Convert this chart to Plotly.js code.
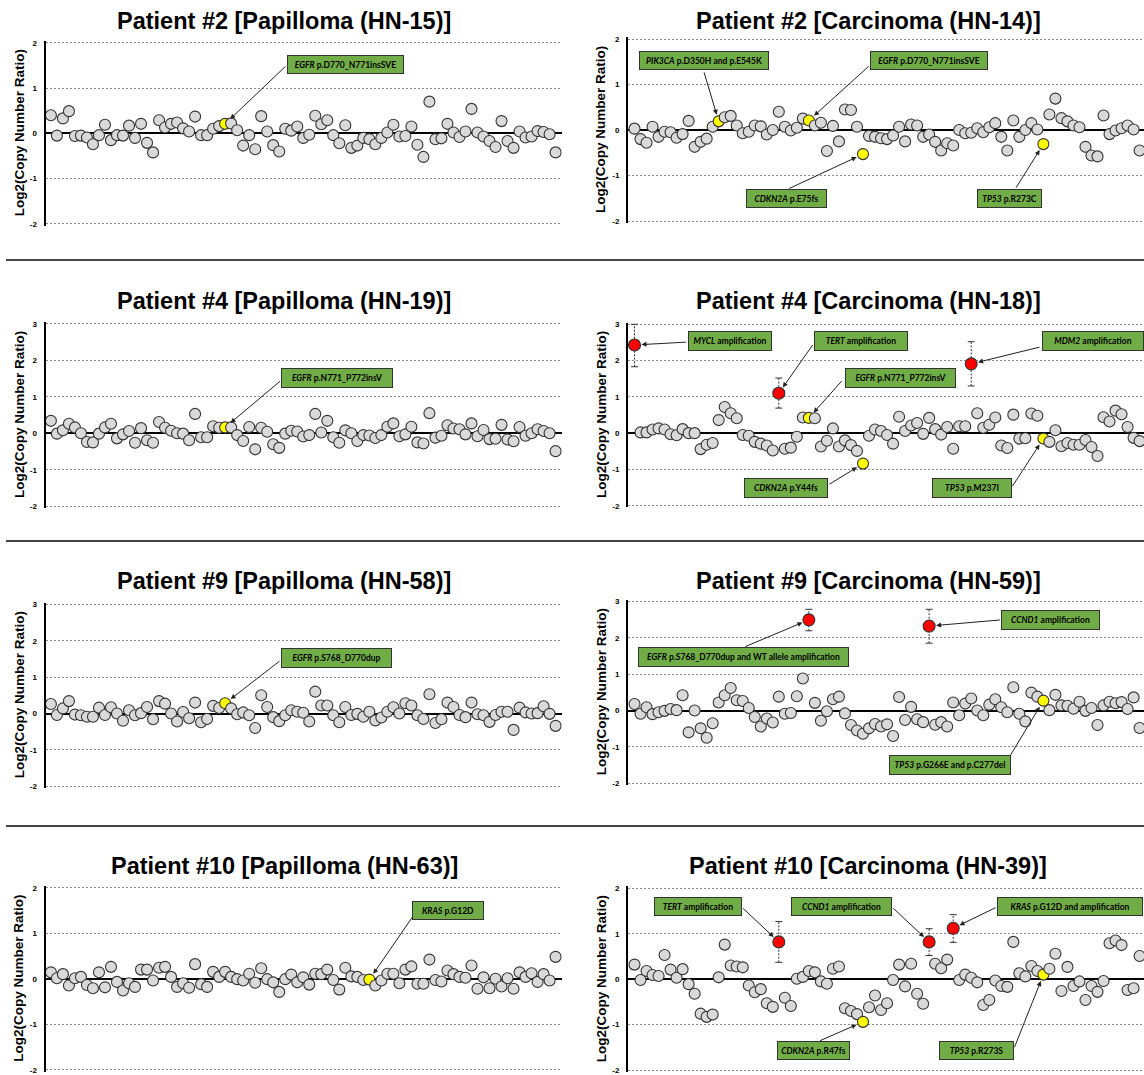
<!DOCTYPE html>
<html><head><meta charset="utf-8">
<script src="https://cdn.plot.ly/plotly-3.0.1.min.js"></script>
<style>html,body{margin:0;padding:0;background:#fff;} #chart{width:1144px;height:1075px;}</style>
</head><body><div id="chart"></div>
<script>
// ---------------- DATA ----------------
const hn15 = [0.40,-0.05,0.33,0.49,-0.06,-0.05,-0.09,-0.24,-0.04,0.19,
 -0.15,-0.04,-0.05,0.17,-0.10,0.21,-0.21,-0.42,0.29,0.13,
 0.21,0.24,0.11,0.04,0.37,-0.04,-0.04,0.10,0.16,0.21,
 0.22,0.07,-0.27,-0.04,-0.35,0.38,0.04,-0.26,-0.40,0.10,
 0.06,0.15,-0.10,-0.03,0.39,0.20,0.29,-0.04,-0.22,0.18,
 -0.32,-0.27,-0.10,-0.13,-0.24,-0.10,0.02,0.19,-0.07,-0.06,
 0.15,-0.25,-0.52,0.70,-0.13,-0.11,0.21,0.02,-0.08,0.04,
 0.54,0.02,-0.07,-0.17,-0.30,0.27,-0.17,-0.32,0.04,-0.09,
 -0.07,0.05,0.03,-0.02,-0.42];
const hn14 = [0.03,-0.20,-0.28,0.07,-0.15,-0.04,-0.05,-0.17,-0.09,0.20,
 -0.37,-0.26,-0.19,0.07,0.19,0.28,0.31,0.10,-0.07,-0.04,
 0.10,0.08,-0.10,0.00,0.40,0.07,-0.01,0.05,0.25,0.21,
 0.10,0.16,-0.46,0.09,-0.25,0.45,0.44,0.07,-0.53,-0.13,
 -0.15,-0.18,-0.20,-0.12,0.07,-0.25,0.12,0.10,-0.15,-0.10,
 -0.26,-0.45,-0.29,-0.34,0.00,-0.07,-0.06,0.04,-0.05,0.06,
 0.15,-0.15,-0.45,0.21,-0.15,0.00,0.15,0.01,-0.31,0.34,
 0.69,0.26,0.19,0.10,0.06,-0.37,-0.56,-0.58,0.32,-0.09,
 -0.01,0.04,0.10,0.01,-0.45];
const hn19 = [0.34,-0.01,0.08,0.26,0.16,0.00,-0.24,-0.25,-0.01,0.16,
 0.26,-0.14,-0.03,0.06,-0.26,0.14,-0.19,-0.26,0.31,0.15,
 0.07,0.00,-0.01,-0.19,0.53,-0.11,-0.11,0.19,0.15,0.16,
 0.16,-0.05,-0.21,0.17,-0.44,0.15,0.04,-0.30,-0.40,-0.01,
 0.07,0.05,-0.09,-0.05,0.53,0.02,0.34,-0.11,-0.26,0.08,
 0.00,-0.21,-0.05,-0.06,-0.13,-0.05,0.18,0.27,-0.08,-0.03,
 0.18,-0.25,-0.28,0.55,-0.12,-0.07,0.22,0.13,0.11,-0.03,
 0.27,-0.08,0.09,-0.16,-0.15,0.23,-0.17,-0.22,0.17,-0.07,
 0.00,0.11,0.06,0.00,-0.49];
const hn18 = [2.43,0.02,0.02,0.10,0.13,0.10,-0.03,-0.06,0.11,0.00,
 0.00,-0.44,-0.32,-0.27,0.36,0.72,0.55,0.41,-0.05,-0.07,
 -0.24,-0.29,-0.34,-0.48,1.10,-0.43,-0.40,-0.10,0.43,0.42,
 0.41,-0.37,-0.21,0.13,-0.37,-0.20,-0.33,-0.49,-0.84,-0.07,
 0.10,0.06,-0.05,-0.29,0.45,0.06,0.21,0.28,-0.02,0.42,
 0.11,-0.04,0.17,-0.43,0.19,0.19,1.91,0.55,0.15,0.23,
 0.43,-0.34,-0.41,0.51,-0.15,-0.14,0.54,0.48,-0.15,-0.24,
 0.08,-0.36,-0.27,-0.32,-0.32,-0.19,-0.38,-0.63,0.44,0.32,
 0.62,0.52,0.17,-0.13,-0.22];
const hn58 = [0.26,-0.04,0.14,0.34,-0.03,-0.05,-0.09,-0.09,0.16,-0.04,
 0.17,0.00,-0.20,0.09,-0.05,0.01,0.18,-0.16,0.34,0.27,
 0.00,-0.22,0.04,-0.13,0.30,-0.24,-0.15,0.21,0.15,0.28,
 0.14,-0.02,0.03,-0.05,-0.40,0.50,0.18,-0.10,-0.21,-0.05,
 0.09,0.05,0.02,-0.22,0.60,0.22,0.22,-0.05,-0.24,0.18,
 -0.04,-0.01,-0.09,0.05,-0.19,-0.11,0.05,0.17,0.00,0.28,
 0.22,-0.05,-0.15,0.53,-0.26,-0.16,0.30,0.18,-0.04,-0.10,
 0.30,-0.02,-0.05,-0.23,-0.04,0.05,0.05,-0.45,0.16,0.03,
 0.00,0.01,0.20,-0.01,-0.34];
const hn59 = [0.18,-0.09,0.09,-0.10,-0.05,-0.01,0.04,0.01,0.42,-0.60,
 0.00,-0.49,-0.75,-0.35,0.22,0.42,0.62,0.28,0.26,0.07,
 -0.18,-0.44,-0.22,-0.33,0.38,-0.09,-0.07,0.39,0.88,2.49,
 0.21,-0.28,-0.02,0.31,0.38,-0.08,-0.40,-0.55,-0.64,-0.49,
 -0.37,-0.44,-0.38,-0.70,0.37,-0.26,0.10,-0.24,-0.32,2.32,
 -0.39,-0.32,-0.44,0.22,-0.13,0.19,0.33,0.00,-0.13,0.16,
 0.31,0.09,-0.05,0.64,-0.09,-0.30,0.49,0.38,0.27,0.01,
 0.43,0.14,0.13,0.05,0.24,-0.01,0.07,-0.40,0.14,0.24,
 0.20,0.23,0.04,0.36,-0.48];
const hn63 = [0.14,0.01,0.10,-0.15,0.01,0.04,-0.14,-0.21,0.14,-0.19,
 0.26,-0.07,-0.26,-0.10,-0.18,0.20,0.20,-0.04,0.24,0.26,
 0.04,-0.18,-0.10,-0.20,0.32,-0.12,-0.18,0.15,0.04,0.15,
 0.04,-0.01,-0.04,0.11,-0.09,0.23,-0.01,-0.08,-0.29,-0.01,
 0.09,-0.08,0.03,-0.13,0.11,0.10,0.20,-0.03,-0.24,0.24,
 0.05,0.04,-0.03,-0.02,-0.15,-0.04,0.11,0.11,-0.10,0.20,
 0.27,-0.11,-0.11,0.42,-0.03,-0.06,0.18,0.10,0.04,0.02,
 0.29,-0.22,0.03,-0.21,0.00,-0.17,0.01,-0.22,0.14,0.04,
 0.12,-0.07,0.10,-0.04,0.48];
const hn39 = [0.32,-0.02,0.18,0.09,0.07,0.53,0.21,0.03,0.22,-0.11,
 -0.32,-0.76,-0.83,-0.78,0.04,0.76,0.30,0.28,0.26,-0.14,
 -0.29,-0.22,-0.53,-0.61,0.82,-0.41,-0.59,0.01,0.05,0.18,
 0.15,-0.05,-0.10,0.23,0.28,-0.64,-0.70,-0.77,-0.94,-0.62,
 -0.36,-0.68,-0.53,-0.02,0.32,-0.16,0.34,-0.32,-0.54,0.82,
 0.34,0.24,0.43,1.12,-0.02,0.10,0.03,-0.07,-0.57,-0.46,
 -0.03,-0.15,-0.17,0.82,0.13,0.06,0.29,0.18,0.10,0.23,
 0.56,-0.26,0.27,-0.15,-0.05,-0.46,-0.15,-0.28,-0.04,0.79,
 0.85,0.75,-0.24,-0.20,0.51];

// highlighted probes (1-based probe index)
const hn15Yellow = [30];
const hn14Yellow = [15, 30, 39, 69];
const hn19Yellow = [30];
const hn18Yellow = [30, 39, 69];
const hn18Red = [1, 25, 57];
const hn18ErrLo = [1.83, 0.69, 1.30];
const hn18ErrHi = [3.00, 1.52, 2.52];
const hn58Yellow = [30];
const hn59Yellow = [69];
const hn59Red = [30, 50];
const hn59ErrLo = [2.19, 1.85];
const hn59ErrHi = [2.78, 2.78];
const hn63Yellow = [54];
const hn39Yellow = [39, 69];
const hn39Red = [25, 50, 54];
const hn39ErrLo = [0.37, 0.52, 0.81];
const hn39ErrHi = [1.27, 1.11, 1.42];

const titles = ['Patient #2 [Papilloma (HN-15)]','Patient #2 [Carcinoma (HN-14)]',
 'Patient #4 [Papilloma (HN-19)]','Patient #4 [Carcinoma (HN-18)]',
 'Patient #9 [Papilloma (HN-58)]','Patient #9 [Carcinoma (HN-59)]',
 'Patient #10 [Papilloma (HN-63)]','Patient #10 [Carcinoma (HN-39)]'];
const yAxisTitle = 'Log2(Copy Number Ratio)';

// label texts and the probe each one points to
const labels = [
 [['<i>EGFR</i> p.D770_N771insSVE', 30]],
 [['<i>PIK3CA</i> p.D350H and p.E545K', 15], ['<i>EGFR</i> p.D770_N771insSVE', 30], ['<i>CDKN2A</i> p.E75fs', 39], ['<i>TP53</i> p.R273C', 69]],
 [['<i>EGFR</i> p.N771_P772insV', 30]],
 [['<i>MYCL</i> amplification', 1], ['<i>TERT</i> amplification', 25], ['<i>MDM2</i> amplification', 57], ['<i>EGFR</i> p.N771_P772insV', 30], ['<i>CDKN2A</i> p.Y44fs', 39], ['<i>TP53</i> p.M237I', 69]],
 [['<i>EGFR</i> p.S768_D770dup', 30]],
 [['<i>EGFR</i> p.S768_D770dup and WT allele amplification', 30], ['<i>CCND1</i> amplification', 50], ['<i>TP53</i> p.G266E and p.C277del', 69]],
 [['<i>KRAS</i> p.G12D', 54]],
 [['<i>TERT</i> amplification', 25], ['<i>CCND1</i> amplification', 50], ['<i>KRAS</i> p.G12D and amplification', 54], ['<i>CDKN2A</i> p.R47fs', 39], ['<i>TP53</i> p.R273S', 69]]
];

// ---------------- LAYOUT GEOMETRY (pixels) ----------------
const W = 1144, H = 1075;
// label boxes: [centerIdx, centerY, widthPx, heightPx, tailIdx, tailY]
const labelGeom = [
 [[50.1, 1.53, 117, 19, 40.3, 1.51]],
 [[12.5, 1.52, 130, 19, 12.5, 1.30], [50.0, 1.52, 118, 19, 40.2, 1.43], [26.3, -1.51, 81, 19, 26.5, -1.30], [63.4, -1.51, 65, 19, 64.3, -1.30]],
 [[48.6, 1.52, 112, 20, 39.4, 1.46]],
 [[16.8, 2.53, 84, 20, 9.8, 2.51], [38.6, 2.53, 94, 20, 30.8, 2.47], [77.2, 2.53, 102, 20, 68.6, 2.38], [45.2, 1.51, 111, 20, 35.7, 1.48], [26.2, -1.50, 84, 20, 33.2, -1.43], [57.2, -1.50, 80, 20, 63.7, -1.50]],
 [[48.6, 1.52, 111, 20, 39.3, 1.47]],
 [[19.2, 1.48, 211, 20, 19.2, 1.74], [70.2, 2.50, 99, 20, 62.0, 2.49], [53.5, -1.49, 122, 20, 63.4, -1.26]],
 [[67.1, 1.49, 72, 19, 61.3, 1.38]],
 [[11.5, 1.61, 88, 19, 18.8, 1.59], [35.4, 1.61, 101, 19, 43.8, 1.59], [73.5, 1.61, 146, 19, 61.3, 1.59], [30.8, -1.58, 73, 19, 31.6, -1.37], [57.9, -1.58, 75, 19, 64.1, -1.53]]
];
const colGeom = [
 {px0: 45.5, px1: 561.8, p1: 50.9, p85: 555.6, titleX: 284, yTitleX: 19},
 {px0: 628, px1: 1144, p1: 634.5, p85: 1139.6, titleX: 868, yTitleX: 601}
];
// per panel: top tick value, px of top tick, px of -2, title y px
const rowGeom = [
 {ymax: 2, top: 42.7, bot: 224.0, titleY: 20.5},
 {ymax: 2, top: 39.0, bot: 221.0, titleY: 20.5},
 {ymax: 3, top: 323.7, bot: 506.3, titleY: 300.7},
 {ymax: 3, top: 324.3, bot: 505.7, titleY: 300.7},
 {ymax: 3, top: 604.3, bot: 786.3, titleY: 580.5},
 {ymax: 3, top: 601.3, bot: 783.3, titleY: 580.5},
 {ymax: 2, top: 887.7, bot: 1069.7, titleY: 866},
 {ymax: 2, top: 888.3, bot: 1070.0, titleY: 866}
];
const separatorsY = [260, 541, 826];

const panels = [
 {values: hn15, yellow: hn15Yellow, red: [], lo: [], hi: []},
 {values: hn14, yellow: hn14Yellow, red: [], lo: [], hi: []},
 {values: hn19, yellow: hn19Yellow, red: [], lo: [], hi: []},
 {values: hn18, yellow: hn18Yellow, red: hn18Red, lo: hn18ErrLo, hi: hn18ErrHi},
 {values: hn58, yellow: hn58Yellow, red: [], lo: [], hi: []},
 {values: hn59, yellow: hn59Yellow, red: hn59Red, lo: hn59ErrLo, hi: hn59ErrHi},
 {values: hn63, yellow: hn63Yellow, red: [], lo: [], hi: []},
 {values: hn39, yellow: hn39Yellow, red: hn39Red, lo: hn39ErrLo, hi: hn39ErrHi}
];

const FONT = 'Liberation Sans, Arial, Helvetica, sans-serif';
const BOXFONT = 'Lato, Liberation Sans, Arial, sans-serif';

const traces = [];
const layout = {
 width: W, height: H, margin: {l: 0, r: 0, t: 0, b: 0},
 paper_bgcolor: '#fff', plot_bgcolor: 'rgba(0,0,0,0)',
 showlegend: false, hovermode: false,
 annotations: [], shapes: []
};

panels.forEach((p, i) => {
 const n = i === 0 ? '' : String(i + 1);
 const cg = colGeom[i % 2];
 const rg = rowGeom[i];
 const probeIndex = p.values.map((_, k) => k + 1);
 // x axis
 const s = (cg.p85 - cg.p1) / 84;
 const xr = [1 - (cg.p1 - cg.px0) / s, 85 + (cg.px1 - cg.p85) / s];
 layout['xaxis' + n] = {
  domain: [cg.px0 / W, Math.min(1, cg.px1 / W)], range: xr, anchor: 'y' + n,
  showgrid: false, zeroline: false, showline: false, showticklabels: false, ticks: '', fixedrange: true
 };
 // y axis
 const pad = 0.04;
 const ppu = (rg.bot - rg.top) / (rg.ymax + 2);
 const topPx = rg.top - pad * ppu, botPx = rg.bot + pad * ppu;
 const tv = [];
 for (let v = -2; v <= rg.ymax; v++) tv.push(v);
 layout['yaxis' + n] = {
  domain: [1 - botPx / H, 1 - topPx / H], range: [-2 - pad, rg.ymax + pad], anchor: 'x' + n,
  showline: true, linecolor: '#000', linewidth: 2,
  showgrid: true, gridcolor: '#8a8a8a', gridwidth: 1, griddash: '2px,2px',
  zeroline: true, zerolinecolor: '#000', zerolinewidth: 2,
  tickvals: tv, ticktext: tv.map(String), ticks: '', ticklabelstandoff: 5,
  tickfont: {family: FONT, size: 8, color: '#000', weight: 'bold'}, fixedrange: true
 };
 // error bars for amplified probes
 if (p.red.length) {
  const ex = [], ey = [];
  p.red.forEach((idx, k) => { ex.push(idx, idx, null); ey.push(p.lo[k], p.hi[k], null); });
  traces.push({
   type: 'scatter', mode: 'lines+markers', x: ex, y: ey, xaxis: 'x' + n, yaxis: 'y' + n,
   line: {color: '#333', width: 1, dash: '2px,1.5px'},
   marker: {symbol: 'line-ew', size: 5, opacity: 1, line: {color: '#333', width: 1}},
   cliponaxis: false
  });
 }
 // points
 const colors = probeIndex.map(k => p.red.includes(k) ? '#ff0000' : (p.yellow.includes(k) ? '#ffff00' : '#d9d9d9'));
 const sizes = probeIndex.map(k => p.red.includes(k) ? 12 : 11);
 traces.push({
  type: 'scatter', mode: 'markers', x: probeIndex, y: p.values, xaxis: 'x' + n, yaxis: 'y' + n,
  marker: {color: colors, size: sizes, opacity: 1, line: {color: '#333', width: 1.1}}
 });
 // panel title
 layout.annotations.push({
  xref: 'paper', yref: 'paper', x: cg.titleX / W, y: 1 - rg.titleY / H, xanchor: 'center', yanchor: 'middle',
  text: '<b>' + titles[i] + '</b>', showarrow: false, font: {family: FONT, size: 23.5, color: '#000'}
 });
 // y axis title
 layout.annotations.push({
  xref: 'paper', yref: 'paper', x: cg.yTitleX / W, y: 1 - ((rg.top + rg.bot) / 2) / H, xanchor: 'center', yanchor: 'middle',
  text: '<b>' + yAxisTitle + '</b>', textangle: -90, showarrow: false, font: {family: FONT, size: 13.5, color: '#000'}
 });
 // mutation labels
 labels[i].forEach((lab, k) => {
  const g = labelGeom[i][k];
  const target = lab[1];
  layout.annotations.push({
   xref: 'x' + n, yref: 'y' + n, axref: 'x' + n, ayref: 'y' + n,
   x: target, y: p.values[target - 1], ax: g[4], ay: g[5],
   text: '', showarrow: true, arrowhead: 2, arrowsize: 1, arrowwidth: 1, arrowcolor: '#222', standoff: 7
  });
  layout.annotations.push({
   xref: 'x' + n, yref: 'y' + n, x: g[0], y: g[1], xanchor: 'center', yanchor: 'middle',
   text: '<b>' + lab[0] + '</b>', showarrow: false,
   bgcolor: '#70ad47', bordercolor: '#333', borderwidth: 1, borderpad: 0,
   width: g[2] - 2, height: g[3] - 2, align: 'center', valign: 'middle',
   font: {family: BOXFONT, size: 8.5, color: '#000'}
  });
 });
});

separatorsY.forEach(y => {
 layout.shapes.push({type: 'line', xref: 'paper', yref: 'paper', x0: 6 / W, x1: 1, y0: 1 - y / H, y1: 1 - y / H,
  line: {color: '#444', width: 2}});
});

Plotly.newPlot('chart', traces, layout, {staticPlot: true, displayModeBar: false});
</script>
</body></html>
